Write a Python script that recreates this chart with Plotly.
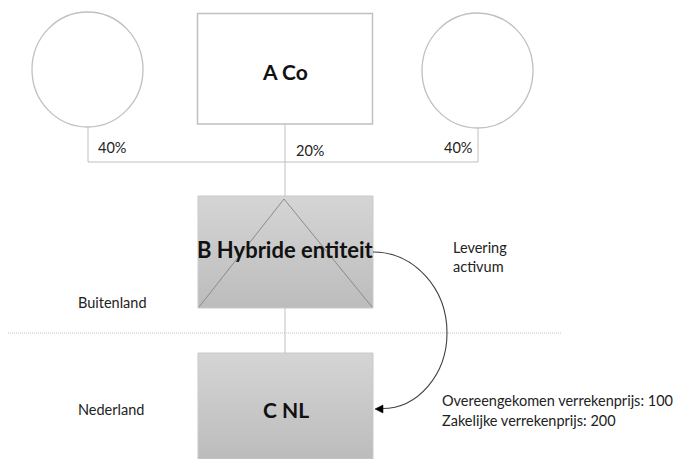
import plotly.graph_objects as go

# ---- data ----
entities = ["A Co", "B Hybride entiteit", "C NL"]
shareholders_pct = [40, 20, 40]          # left circle, A Co, right circle
regions = ["Buitenland", "Nederland"]
flow_label = "Levering<br>activum"
price_labels = ["Overeengekomen verrekenprijs", "Zakelijke verrekenprijs"]
price_values = [100, 200]

W, H = 673, 459
FONT = "Lato, Carlito, Calibri, 'Open Sans', sans-serif"
LINE = "#c0c0c0"

fig = go.Figure()

# gradient boxes (B and C)
for (x0, x1, y0, y1) in [(198, 373, 196, 308), (198, 373, 353, 459)]:
    fig.add_trace(go.Scatter(
        x=[x0, x1, x1, x0, x0], y=[y0, y0, y1, y1, y0],
        mode="lines", fill="toself",
        line=dict(color="#c9c9c9", width=1),
        fillgradient=dict(type="vertical",
                          colorscale=[[0, "#bcbcbc"], [1, "#d5d5d5"]]),
        hoverinfo="skip", showlegend=False))

shapes = []
# circles (shareholders)
shapes.append(dict(type="circle", x0=32, x1=143, y0=12, y1=127,
                   line=dict(color=LINE, width=1.3), fillcolor="white"))
shapes.append(dict(type="circle", x0=422, x1=533, y0=13, y1=128,
                   line=dict(color=LINE, width=1.3), fillcolor="white"))
# A Co box
shapes.append(dict(type="rect", x0=197.5, x1=372.5, y0=13.5, y1=124,
                   line=dict(color=LINE, width=1.5), fillcolor="white"))
# connectors
for (xa, ya, xb, yb) in [(88, 127, 88, 162), (478, 128, 478, 162),
                         (88, 162, 478, 162), (285, 124, 285, 196),
                         (285, 308, 285, 353)]:
    shapes.append(dict(type="line", x0=xa, y0=ya, x1=xb, y1=yb,
                       line=dict(color=LINE, width=1)))
# triangle inside B
shapes.append(dict(type="path", path="M 199,307 L 284,199 L 372,307",
                   line=dict(color="#8a8a8a", width=1)))
# border line dotted
shapes.append(dict(type="line", x0=8, x1=562, y0=333, y1=333,
                   line=dict(color="#c4c4c4", width=1, dash="1px,1px")))
# arc (asset delivery)
k = 0.5523
sx, sy = 373, 252
rx, ry1, ry2 = 74, 81, 75
cx, cy = 447, 333
ex, ey = 382, 408.5
arc = (f"M {sx},{sy} C {sx + k*rx},{sy} {cx},{cy - k*ry1} {cx},{cy} "
       f"C {cx},{cy + k*ry2} {ex + k*(cx-ex)},{ey} {ex},{ey}")
shapes.append(dict(type="path", path=arc, line=dict(color="#404040", width=1.1)))
shapes.append(dict(type="path", path="M 375,409 L 383,405 L 383,413 Z",
                   fillcolor="black", line=dict(color="black", width=0.5)))

fig.update_layout(shapes=shapes)

ann = []
def txt(x, y, s, size=14.5, bold=False, anchor="left"):
    ann.append(dict(x=x, y=y, text=(f"<b>{s}</b>" if bold else s),
                    showarrow=False, xanchor=anchor, yanchor="middle",
                    font=dict(family=FONT, size=size, color="#111111" if bold else "#222222")))

txt(285, 71, entities[0], size=21, bold=True, anchor="center")
txt(285.5, 249, entities[1], size=22, bold=True, anchor="center")
txt(285.5, 409, entities[2], size=21, bold=True, anchor="center")

txt(96, 147, f"{shareholders_pct[0]}%")
txt(294, 150, f"{shareholders_pct[1]}%")
txt(442, 147, f"{shareholders_pct[2]}%")

txt(76, 302, regions[0])
txt(76, 409, regions[1])

ann.append(dict(x=451, y=257, text=flow_label, showarrow=False,
                xanchor="left", yanchor="middle", align="left",
                font=dict(family=FONT, size=14.5, color="#222222")))
txt(440, 400, f"{price_labels[0]}: {price_values[0]}")
txt(440, 420, f"{price_labels[1]}: {price_values[1]}")

fig.update_layout(
    annotations=ann,
    width=W, height=H,
    margin=dict(l=0, r=0, t=0, b=0),
    paper_bgcolor="white", plot_bgcolor="white",
    xaxis=dict(range=[0, W], visible=False, fixedrange=True),
    yaxis=dict(range=[H, 0], visible=False, fixedrange=True),
    showlegend=False,
)

fig.write_html("out.html", config={"displayModeBar": False},
               post_script="document.body.style.margin='0';document.body.style.overflow='hidden';")
